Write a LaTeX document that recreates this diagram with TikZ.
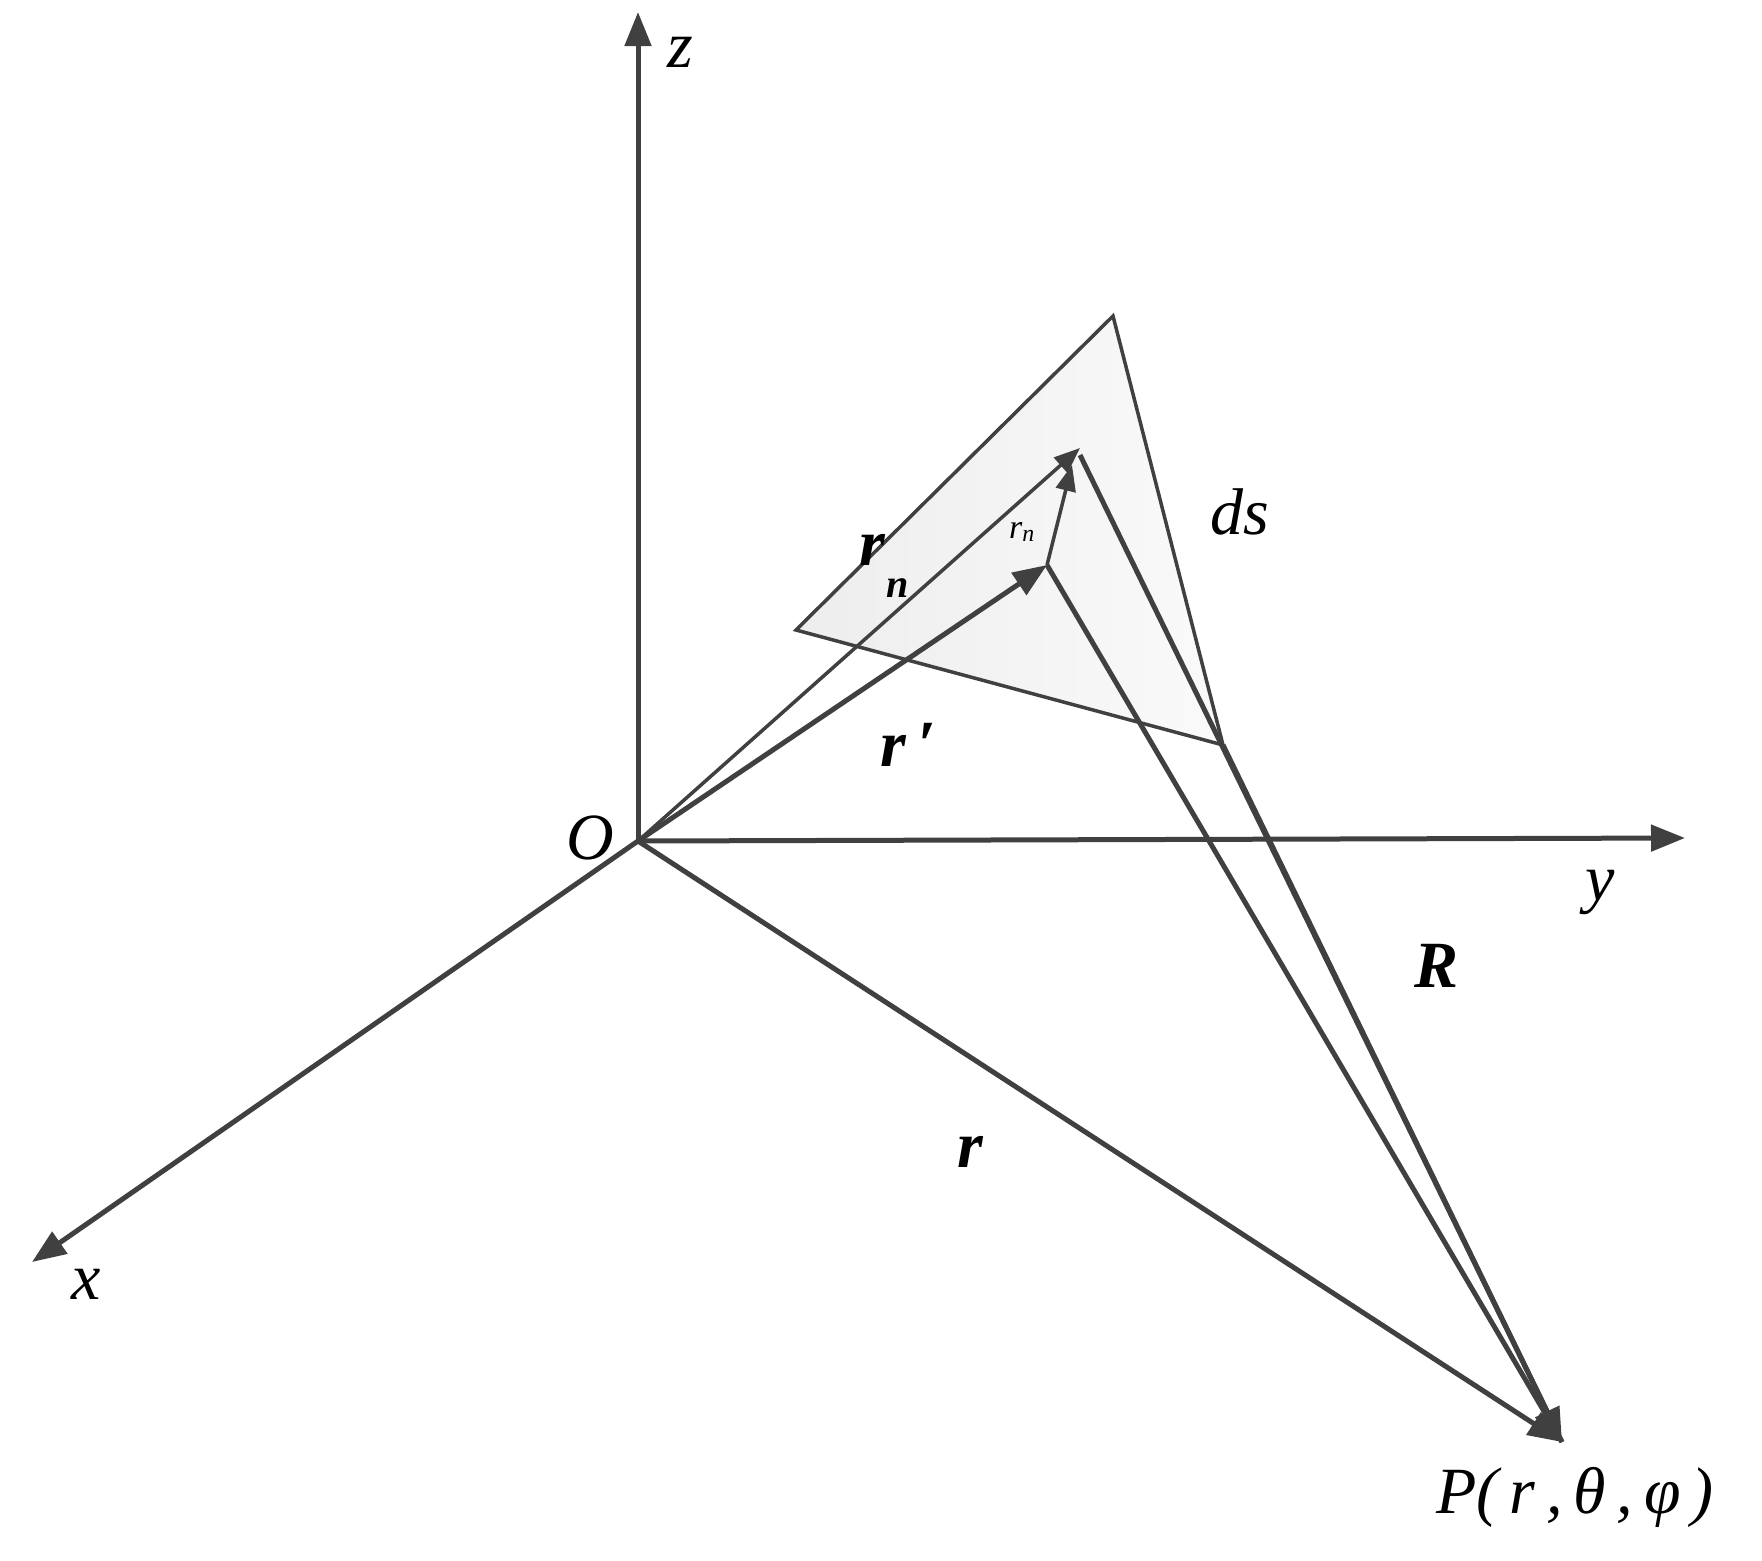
\documentclass[tikz,border=0pt]{standalone}
\usepackage{fontspec}
\setmainfont{Liberation Serif}
\usetikzlibrary{arrows.meta}
\begin{document}
\begin{tikzpicture}[x=1pt,y=-1pt,
  ln/.style={line width=5pt,draw=black!75},
  thin/.style={line width=3.5pt,draw=black!75},
  arr/.style={-{Triangle[length=34pt,width=26pt]}},
  sarr/.style={-{Triangle[length=26pt,width=20pt]}},
  lbl/.style={font=\fontsize{66}{72}\selectfont\itshape, inner sep=0pt},
  blbl/.style={font=\fontsize{66}{72}\selectfont\bfseries\itshape, inner sep=0pt}]
\useasboundingbox (0,0) rectangle (1762,1561);
\coordinate (O) at (638,841);
\coordinate (Z) at (638,12);
\coordinate (Y) at (1685,838);
\coordinate (X) at (32,1262);
\coordinate (P) at (1562,1442);
\coordinate (A) at (1113,316);
\coordinate (L) at (796,630);
\coordinate (B) at (1223,745);
\coordinate (Rn) at (1080,448);
\coordinate (Rp) at (1047,565);
\fill[left color=gray!14, right color=gray!4] (A) -- (L) -- (B) -- cycle;
\draw[thin] (A) -- (L) -- (B) -- cycle;
\draw[ln,arr] (O) -- (Z);
\draw[ln,arr] (O) -- (Y);
\draw[ln,arr] (O) -- (X);
\draw[ln,arr] (O) -- (P);
\draw[thin,sarr] (O) -- (Rn);
\draw[ln,arr] (O) -- (Rp);
\draw[thin,sarr] (Rp) -- (1072,465);
\draw[ln] (1080,455) -- (P);
\draw[ln] (Rp) -- (P);
\draw[ln,arr] (B) -- (P);
\node[lbl] (lz) at (680,52) {z};
\node[lbl] (lO) at (590,838) {O};
\node[lbl] (ly) at (1600,892) {y};
\node[lbl] (lx) at (86,1284) {x};
\node[blbl] (lR) at (1436,966) {R};
\node[blbl] (lr) at (970,1152) {r};
\node[blbl] (lrp) at (908,745) {r\,′};
\node[blbl] (lrn) at (872,550) {r};
\node[lbl,font=\fontsize{40}{44}\selectfont\bfseries\itshape] (lrnn) at (898,588) {n};
\node[lbl,font=\fontsize{34}{38}\selectfont\itshape] (lg) at (1022,532) {r\textsubscript{n}};
\node[lbl] (lds) at (1240,512) {ds};
\node[lbl] (lP) at (1575,1497) {P(\,r\,,\,θ\,,\,φ\,)};
\end{tikzpicture}
\end{document}
